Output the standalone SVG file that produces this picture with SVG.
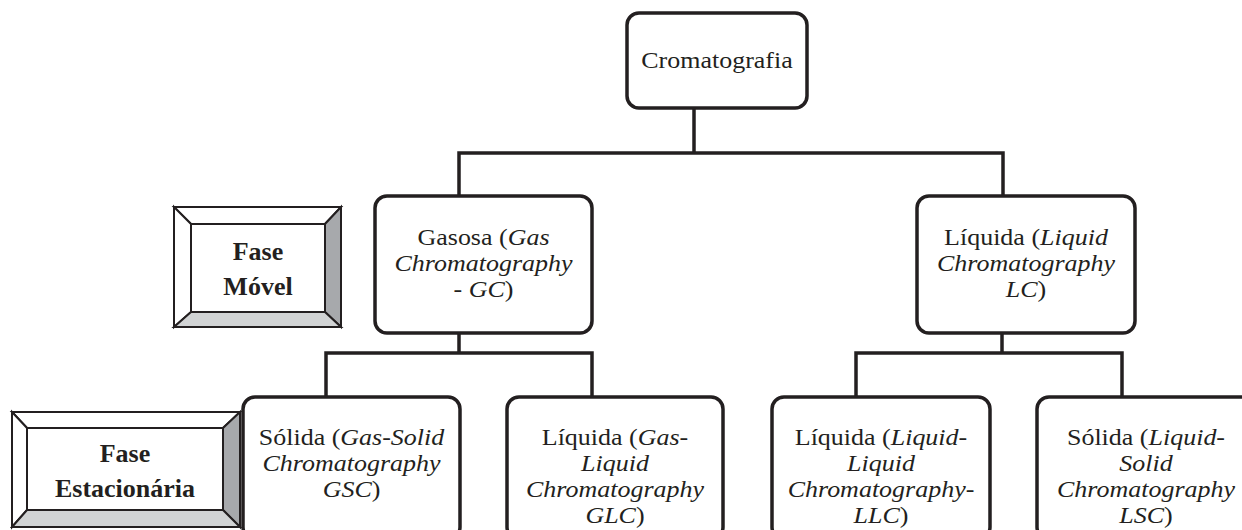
<svg xmlns="http://www.w3.org/2000/svg" width="1242" height="530" viewBox="0 0 1242 530">
<style>
.box{fill:#fff;stroke:#231f20;stroke-width:3.5}
.con{fill:none;stroke:#231f20;stroke-width:3.5;stroke-linejoin:miter}
.t{font-family:"Liberation Serif","Times New Roman","DejaVu Serif",serif;font-size:23px;fill:#231f20;text-anchor:middle}
.i{font-style:italic}
.b{font-family:"Liberation Serif","Times New Roman","DejaVu Serif",serif;font-size:26px;font-weight:bold;fill:#231f20;text-anchor:middle}
.bv{stroke:#231f20;stroke-width:2;stroke-linejoin:miter}
.w{fill:#fff}
.g1{fill:#a7a9ac}
.g2{fill:#d1d3d4}
</style>
<rect width="1242" height="530" fill="#fff"/>
<g id="connectors">
<path class="con" d="M694 108V153M459 196V153H1003V196"/>
<path class="con" d="M459 333V353M326 397V353H592V397"/>
<path class="con" d="M1002 333V353M856 397V353H1122V397"/>
</g>
<g id="n-cromatografia">
<rect class="box" x="627" y="13" width="180" height="95" rx="12"/>
<g transform="translate(717,0) scale(1.13,1)"><text class="t" x="0" y="68">Cromatografia</text></g>
</g>
<g id="n-fase-movel">
<polygon class="bv w" points="174,207 341,207 325,224 191,224"/>
<polygon class="bv w" points="174,207 191,224 191,312 174,327"/>
<polygon class="bv g1" points="341,207 341,327 325,312 325,224"/>
<polygon class="bv g2" points="174,327 341,327 325,312 191,312"/>
<rect class="bv w" x="191" y="224" width="134" height="88"/>
<text class="b" x="258" y="260">Fase</text>
<text class="b" x="258" y="295">Móvel</text>
</g>
<g id="n-gasosa">
<rect class="box" x="375" y="196" width="217" height="137" rx="12"/>
<g transform="translate(483.5,0) scale(1.13,1)">
<text class="t" x="0" y="245">Gasosa (<tspan class="i">Gas</tspan></text>
<text class="t i" x="0" y="271">Chromatography</text>
<text class="t" x="0" y="297">- <tspan class="i">GC</tspan>)</text>
</g>
</g>
<g id="n-liquida-lc">
<rect class="box" x="917" y="196" width="218" height="137" rx="12"/>
<g transform="translate(1026,0) scale(1.13,1)">
<text class="t" x="0" y="245">Líquida (<tspan class="i">Liquid</tspan></text>
<text class="t i" x="0" y="271">Chromatography</text>
<text class="t" x="0" y="297"><tspan class="i">LC</tspan>)</text>
</g>
</g>
<g id="n-fase-estacionaria">
<polygon class="bv w" points="12,412 240,412 223,428 27,428"/>
<polygon class="bv w" points="12,412 27,428 27,510 12,527"/>
<polygon class="bv g1" points="240,412 240,527 223,510 223,428"/>
<polygon class="bv g2" points="12,527 240,527 223,510 27,510"/>
<rect class="bv w" x="27" y="428" width="196" height="82"/>
<text class="b" x="125" y="462">Fase</text>
<text class="b" x="125" y="497">Estacionária</text>
</g>
<g id="n-gsc">
<rect class="box" x="243" y="397" width="217" height="142" rx="12"/>
<g transform="translate(351.5,0) scale(1.13,1)">
<text class="t" x="0" y="445">Sólida (<tspan class="i">Gas-Solid</tspan></text>
<text class="t i" x="0" y="471">Chromatography</text>
<text class="t" x="0" y="497"><tspan class="i">GSC</tspan>)</text>
</g>
</g>
<g id="n-glc">
<rect class="box" x="507" y="397" width="216" height="142" rx="12"/>
<g transform="translate(615,0) scale(1.13,1)">
<text class="t" x="0" y="445">Líquida (<tspan class="i">Gas-</tspan></text>
<text class="t i" x="0" y="471">Liquid</text>
<text class="t i" x="0" y="497">Chromatography</text>
<text class="t" x="0" y="523"><tspan class="i">GLC</tspan>)</text>
</g>
</g>
<g id="n-llc">
<rect class="box" x="772" y="397" width="218" height="142" rx="12"/>
<g transform="translate(881,0) scale(1.13,1)">
<text class="t" x="0" y="445">Líquida (<tspan class="i">Liquid-</tspan></text>
<text class="t i" x="0" y="471">Liquid</text>
<text class="t i" x="0" y="497">Chromatography-</text>
<text class="t" x="0" y="523"><tspan class="i">LLC</tspan>)</text>
</g>
</g>
<g id="n-lsc">
<rect class="box" x="1037" y="397" width="218" height="142" rx="12"/>
<g transform="translate(1146,0) scale(1.13,1)">
<text class="t" x="0" y="445">Sólida (<tspan class="i">Liquid-</tspan></text>
<text class="t i" x="0" y="471">Solid</text>
<text class="t i" x="0" y="497">Chromatography</text>
<text class="t" x="0" y="523"><tspan class="i">LSC</tspan>)</text>
</g>
</g>
</svg>
